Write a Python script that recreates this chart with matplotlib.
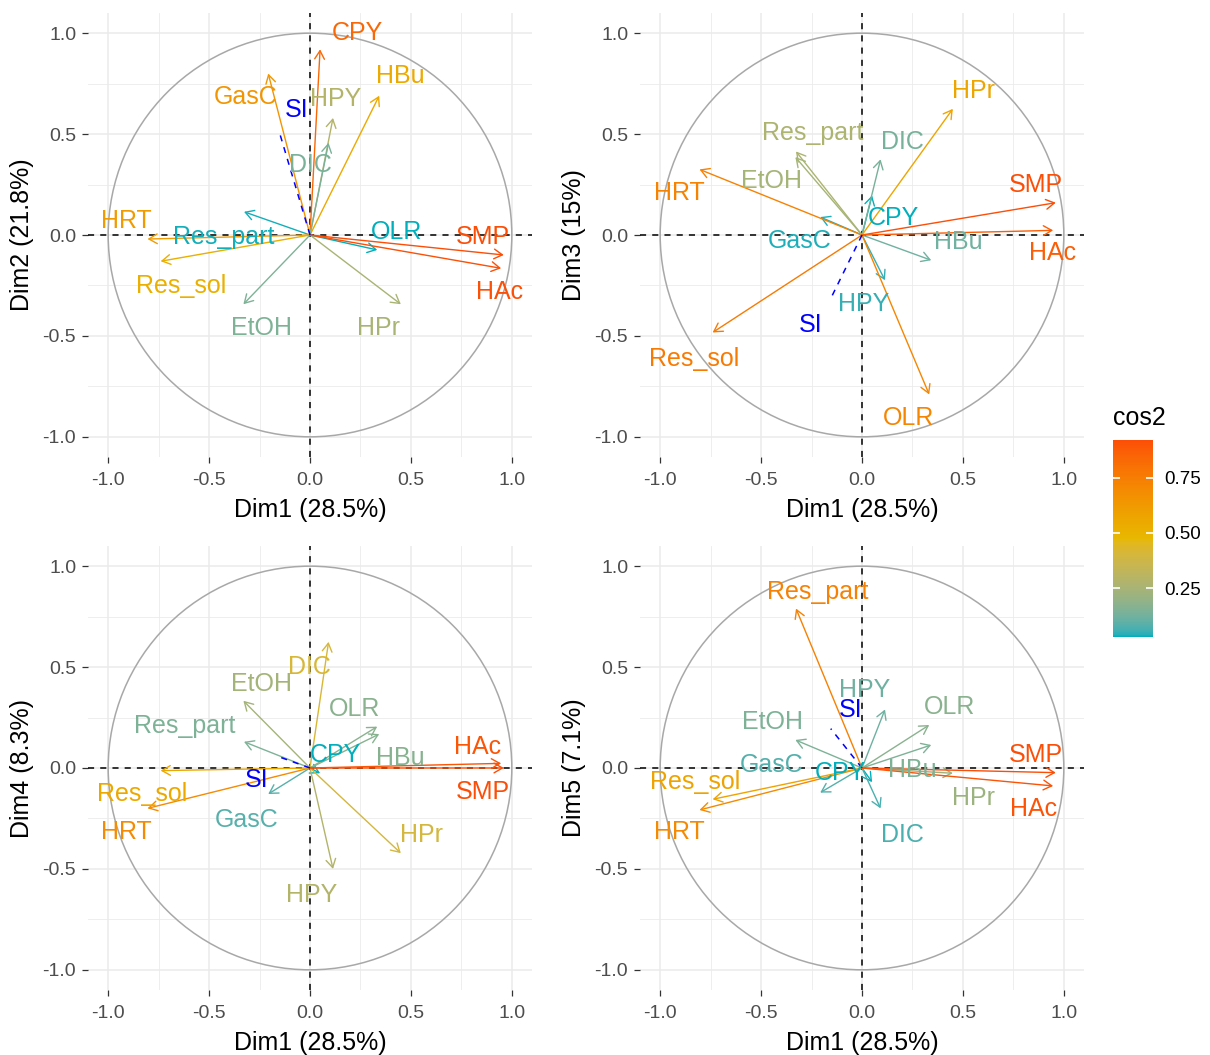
import numpy as np
import matplotlib
matplotlib.use("Agg")
import matplotlib.pyplot as plt
from matplotlib.colors import ListedColormap, Normalize, to_rgb
from matplotlib.patches import Circle
from matplotlib.cm import ScalarMappable

plt.rcParams['font.family'] = ['Liberation Sans', 'DejaVu Sans']

# ---------------- data ----------------
variables = ["CPY", "GasC", "HBu", "HPY", "DIC", "Res_part", "HRT",
             "Res_sol", "EtOH", "HPr", "OLR", "SMP", "HAc"]
dim1 = [0.05, -0.207, 0.343, 0.114, 0.092, -0.327, -0.805,
        -0.740, -0.330, 0.450, 0.333, 0.960, 0.947]
dim2 = [0.92, 0.80, 0.69, 0.58, 0.457, 0.115, -0.02,
        -0.13, -0.343, -0.343, -0.074, -0.099, -0.165]
dim3 = [0.196, 0.089, -0.125, -0.224, 0.375, 0.414, 0.325,
        -0.483, 0.386, 0.625, -0.79, 0.16, 0.023]
dim4 = [-0.026, -0.129, 0.168, -0.50, 0.625, 0.13, -0.20,
        -0.013, 0.333, -0.422, 0.205, 0.0, 0.023]
dim5 = [-0.07, -0.122, 0.114, 0.29, -0.20, 0.79, -0.208,
        -0.155, 0.139, -0.026, 0.213, -0.023, -0.089]

sup_name = "SI"
sup_dims = [-0.155, 0.52, -0.315, 0.056, 0.195]

dim_titles = ["Dim1 (28.5%)", "Dim2 (21.8%)", "Dim3 (15%)", "Dim4 (8.3%)", "Dim5 (7.1%)"]
tick_vals = [-1.0, -0.5, 0.0, 0.5, 1.0]
tick_labels = ["-1.0", "-0.5", "0.0", "0.5", "1.0"]
cbar_ticks = [0.25, 0.50, 0.75]
cbar_limits = (0.03, 0.92)
gradient_colors = ["#00AFBB", "#E7B800", "#FC4E07"]

# label positions (repelled text) per panel
label_pos = [
    {"CPY": (0.233, 1.0), "HBu": (0.446, 0.787), "GasC": (-0.317, 0.683), "SI": (-0.064, 0.619),
     "HPY": (0.129, 0.673), "DIC": (0.0, 0.347), "HRT": (-0.911, 0.069), "Res_part": (-0.426, -0.01),
     "OLR": (0.431, 0.015), "SMP": (0.856, -0.01), "Res_sol": (-0.639, -0.252), "HAc": (0.94, -0.282),
     "EtOH": (-0.238, -0.46), "HPr": (0.337, -0.46)},
    {"HPr": (0.554, 0.713), "Res_part": (-0.243, 0.505), "DIC": (0.198, 0.46), "EtOH": (-0.446, 0.267),
     "HRT": (-0.906, 0.208), "SMP": (0.861, 0.248), "CPY": (0.153, 0.084), "GasC": (-0.307, -0.03),
     "HBu": (0.475, -0.035), "HAc": (0.946, -0.089), "HPY": (0.01, -0.34), "SI": (-0.257, -0.446),
     "Res_sol": (-0.832, -0.614), "OLR": (0.233, -0.906)},
    {"DIC": (-0.005, 0.5), "EtOH": (-0.238, 0.416), "OLR": (0.223, 0.292), "Res_part": (-0.619, 0.208),
     "HAc": (0.832, 0.104), "CPY": (0.124, 0.064), "HBu": (0.446, 0.05), "SI": (-0.262, -0.059),
     "Res_sol": (-0.832, -0.129), "SMP": (0.856, -0.119), "GasC": (-0.312, -0.257),
     "HRT": (-0.911, -0.317), "HPr": (0.55, -0.332), "HPY": (0.01, -0.629)},
    {"Res_part": (-0.218, 0.871), "HPY": (0.015, 0.386), "SI": (-0.054, 0.287), "OLR": (0.436, 0.302),
     "EtOH": (-0.441, 0.228), "GasC": (-0.45, 0.015), "CPY": (-0.109, -0.025), "HBu": (0.248, -0.01),
     "SMP": (0.861, 0.064), "Res_sol": (-0.827, -0.069), "HPr": (0.554, -0.149),
     "HAc": (0.851, -0.203), "HRT": (-0.906, -0.317), "DIC": (0.198, -0.332)},
]


# ---------- Lab-space gradient (like ggplot's scale_color_gradientn) ----------
def _srgb_to_lab(rgb):
    rgb = np.asarray(rgb, float)
    lin = np.where(rgb <= 0.04045, rgb / 12.92, ((rgb + 0.055) / 1.055) ** 2.4)
    M = np.array([[0.4124, 0.3576, 0.1805], [0.2126, 0.7152, 0.0722], [0.0193, 0.1192, 0.9505]])
    xyz = lin @ M.T / np.array([0.95047, 1.0, 1.08883])
    f = np.where(xyz > 216 / 24389, np.cbrt(xyz), (24389 / 27 * xyz + 16) / 116)
    L = 116 * f[..., 1] - 16
    a = 500 * (f[..., 0] - f[..., 1])
    b = 200 * (f[..., 1] - f[..., 2])
    return np.stack([L, a, b], -1)


def _lab_to_srgb(lab):
    L, a, b = lab[..., 0], lab[..., 1], lab[..., 2]
    fy = (L + 16) / 116
    fx = fy + a / 500
    fz = fy - b / 200
    f = np.stack([fx, fy, fz], -1)
    xyz = np.where(f ** 3 > 216 / 24389, f ** 3, (116 * f - 16) / (24389 / 27))
    xyz = xyz * np.array([0.95047, 1.0, 1.08883])
    Minv = np.linalg.inv(np.array([[0.4124, 0.3576, 0.1805], [0.2126, 0.7152, 0.0722],
                                   [0.0193, 0.1192, 0.9505]]))
    lin = xyz @ Minv.T
    lin = np.clip(lin, 0, 1)
    rgb = np.where(lin <= 0.0031308, 12.92 * lin, 1.055 * lin ** (1 / 2.4) - 0.055)
    return np.clip(rgb, 0, 1)


stops_lab = _srgb_to_lab([to_rgb(c) for c in gradient_colors])
tt = np.linspace(0, 1, 256)
stop_pos = np.linspace(0, 1, len(gradient_colors))
lab_interp = np.stack([np.interp(tt, stop_pos, stops_lab[:, k]) for k in range(3)], -1)
cmap = ListedColormap(_lab_to_srgb(lab_interp))

dims = [dim1, dim2, dim3, dim4, dim5]

W, H = 1210, 1055
fig = plt.figure(figsize=(W / 100, H / 100), dpi=100)

panel_px = [(88, 13), (640, 13), (88, 546), (640, 546)]  # left, top in px
size_px = 444

for p, (lx, ty) in enumerate(panel_px):
    ax = fig.add_axes([lx / W, 1 - (ty + size_px) / H, size_px / W, size_px / H])
    xs = np.array(dims[0])
    ys = np.array(dims[p + 1])
    cos2 = xs ** 2 + ys ** 2
    norm = Normalize(cos2.min(), cos2.max())

    ax.set_xlim(-1.1, 1.1)
    ax.set_ylim(-1.1, 1.1)
    ax.set_aspect('equal')
    for s in ax.spines.values():
        s.set_visible(False)
    ax.set_xticks(tick_vals)
    ax.set_xticklabels(tick_labels)
    ax.set_yticks(tick_vals)
    ax.set_yticklabels(tick_labels)
    ax.set_xticks([-0.75, -0.25, 0.25, 0.75], minor=True)
    ax.set_yticks([-0.75, -0.25, 0.25, 0.75], minor=True)
    ax.grid(which='major', color='#EBEBEB', lw=1.1)
    ax.grid(which='minor', color='#EBEBEB', lw=0.6)
    ax.set_axisbelow(True)
    ax.tick_params(which='minor', length=0)
    ax.tick_params(which='major', length=4.5, width=0.9, color='#333333',
                   labelsize=14, labelcolor='#4D4D4D', pad=4)
    ax.tick_params(axis='x', which='major', pad=6)
    ax.set_xlabel(dim_titles[0], fontsize=18, labelpad=7)
    ax.set_ylabel(dim_titles[p + 1], fontsize=18, labelpad=6)

    ax.add_patch(Circle((0, 0), 1.0, fill=False, ec='#A8A8A8', lw=1.1, zorder=1))
    ax.axhline(0, color='black', ls=(0, (4, 4)), lw=1.1, zorder=2)
    ax.axvline(0, color='black', ls=(0, (4, 4)), lw=1.1, zorder=2)

    for i, v in enumerate(variables):
        c = cmap(norm(cos2[i]))
        ax.annotate('', xy=(xs[i], ys[i]), xytext=(0, 0),
                    arrowprops=dict(arrowstyle='->,head_length=0.6,head_width=0.35',
                                    color=c, lw=1.0, shrinkA=0, shrinkB=0,
                                    mutation_scale=10), zorder=3)
        tx, ty2 = label_pos[p][v]
        ax.text(tx, ty2, v, color=c, fontsize=18, ha='center', va='center', zorder=4)

    sx, sy = sup_dims[0], sup_dims[p + 1]
    ax.plot([0, sx], [0, sy], color='blue', lw=1.1, ls=(0, (4, 4)), zorder=3)
    tx, ty2 = label_pos[p][sup_name]
    ax.text(tx, ty2, sup_name, color='blue', fontsize=18, ha='center', va='center', zorder=4)

# colorbar legend
cax = fig.add_axes([1113 / W, 1 - 637 / H, 40 / W, 197 / H])
sm = ScalarMappable(norm=Normalize(*cbar_limits), cmap=cmap)
cb = fig.colorbar(sm, cax=cax, ticks=cbar_ticks)
cb.outline.set_visible(False)
cb.ax.set_yticklabels([f"{t:.2f}" for t in cbar_ticks])
cb.ax.tick_params(direction='in', color='white', length=5, width=1.2, left=True, right=True,
                  labelsize=13.5, labelcolor='black', pad=8)
fig.text(1113 / W, 1 - 418 / H, "cos2", fontsize=18, ha='left', va='center')

fig.savefig("out.png", dpi=100)
